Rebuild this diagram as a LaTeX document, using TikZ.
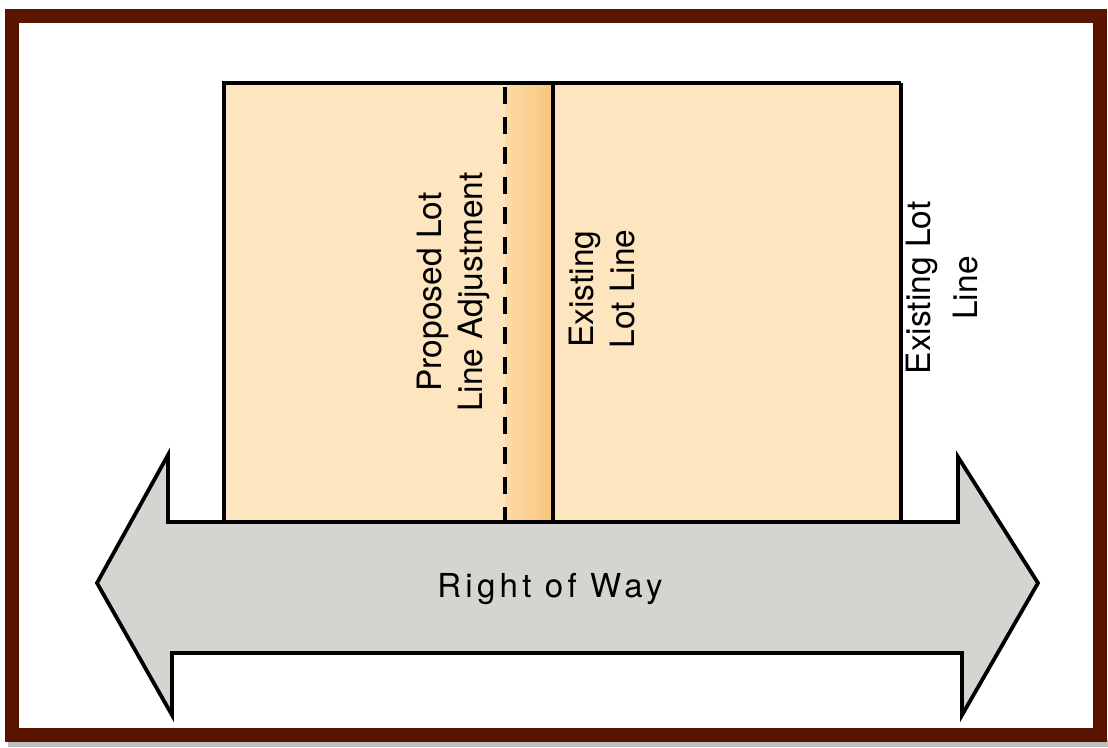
\documentclass[tikz,border=0pt]{standalone}
\usepackage{fontspec}
\setmainfont{TeX Gyre Heros}
\newfontfamily\wayfont[LetterSpace=13]{TeX Gyre Heros}
\definecolor{frame}{HTML}{5A1500}
\definecolor{lot}{HTML}{FDE5BF}
\definecolor{bandL}{HTML}{FCDBA6}
\definecolor{bandR}{HTML}{F8C57A}
\definecolor{road}{HTML}{D5D4D0}
\tikzset{
  lotline/.style={line width=3.8pt, black},
  vlabel/.style={rotate=90, align=center, inner sep=0pt,
    font=\fontsize{33.5}{41}\selectfont},
}
\begin{document}
\begin{tikzpicture}[x=1pt, y=-1pt]
  \useasboundingbox (0,0) rectangle (1108,747);
  % page and drop shadow
  \fill[white] (0,0) rectangle (1108,747);
  \fill[black!25] (8,740) rectangle (1108,747);
  % outer frame
  \draw[frame, line width=14pt, fill=white] (12,16) rectangle (1100,735);

  % lots
  \coordinate (lotNW) at (224,83);
  \coordinate (lotSE) at (901,521);
  \fill[lot] (lotNW) rectangle (lotSE);
  \shade[left color=bandL, right color=bandR] (505,83) rectangle (553,521);
  \draw[lotline] (lotSE |- lotNW) -- (lotNW) -- (lotNW |- lotSE);
  \draw[lotline] (lotSE |- lotNW) -- (lotSE);
  \coordinate (propTop) at (505,83);
  \coordinate (propBot) at (505,521);
  \draw[lotline, dash pattern=on 17pt off 13pt, dash phase=-4pt] (propTop) -- (propBot);
  \coordinate (exTop) at (553,83);
  \coordinate (exBot) at (553,521);
  \draw[lotline] (exTop) -- (exBot);

  % right of way arrow
  \draw[line width=3.8pt, fill=road, line join=miter]
    (97,583) -- (168,455) -- (168,522) -- (958,522) -- (958,457)
    -- (1038,583) -- (962,715) -- (962,653) -- (172,653) -- (172,715) -- cycle;
  \node[anchor=base, inner sep=0pt, font=\wayfont\fontsize{33}{38}\selectfont]
    (way) at (550,597) {Right of Way};

  % line labels
  \node[vlabel] (proposed) at (453,292) {Proposed Lot\\Line Adjustment};
  \node[vlabel] (existA) at (602,289) {Existing\\Lot Line};
  \node[vlabel, font=\fontsize{33.5}{47}\selectfont] (existB) at (942,288) {Existing Lot\\Line};
\end{tikzpicture}
\end{document}
